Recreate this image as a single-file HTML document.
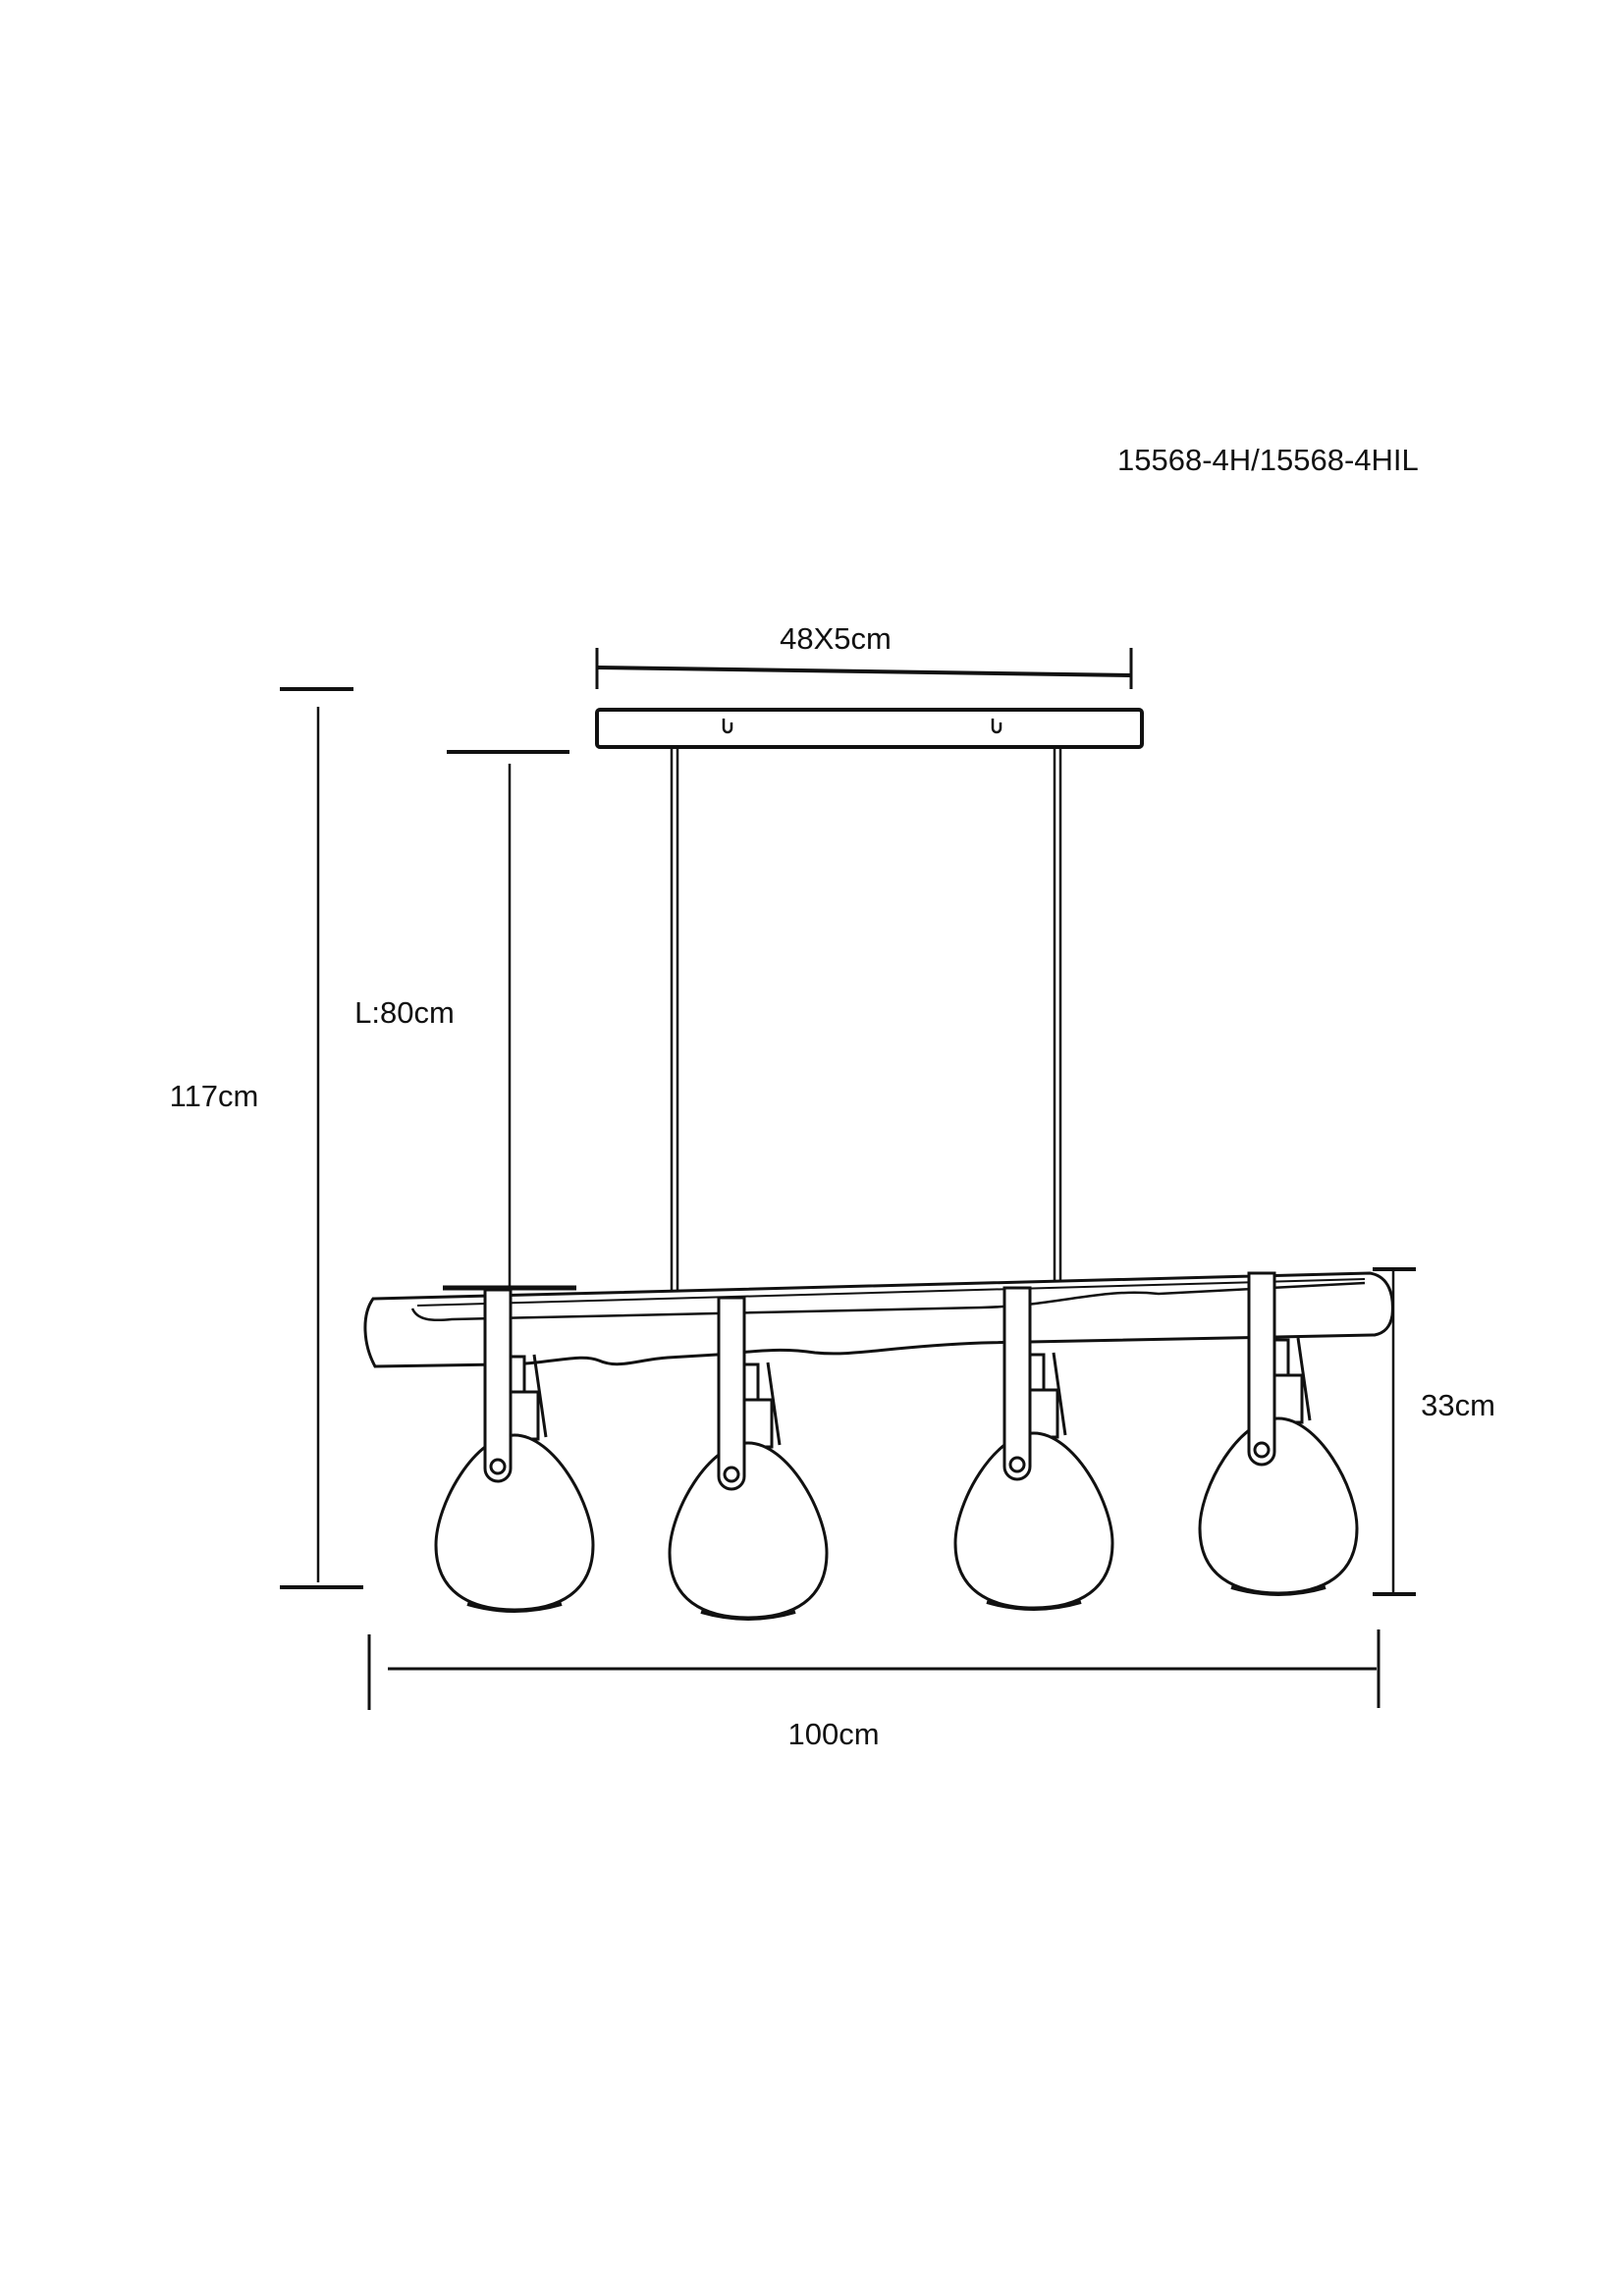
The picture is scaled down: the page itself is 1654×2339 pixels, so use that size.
<!DOCTYPE html>
<html><head><meta charset="utf-8"><style>
html,body{margin:0;padding:0;background:#fff}
svg{display:block}
text{font-family:"Liberation Sans",sans-serif;fill:#111}
</style></head><body>
<svg width="1654" height="2339" viewBox="0 0 1654 2339" xmlns="http://www.w3.org/2000/svg">
<defs>
<g id="lamp" fill="#fff" stroke="#111" stroke-width="3">
  <path d="M20,-82 L32,2" fill="none"/>
  <rect x="-6" y="-80" width="16" height="40"/>
  <rect x="-8" y="-44" width="32" height="48"/>
  <path d="M0,0 C40,0 80,70 80,112 C80,160 45,178 0,178 C-45,178 -80,160 -80,112 C-80,70 -40,0 0,0 Z"/>
  <path d="M-48,172 Q0,186 48,172" fill="none" stroke-width="4"/>
  <path d="M-30,-148 L-4,-148 L-4,34 A13,13 0 0 1 -30,34 Z"/>
  <circle cx="-17" cy="32" r="7"/>
</g>
</defs>

<text x="1138" y="479" font-size="31">15568-4H/15568-4HIL</text>

<text x="851" y="661" font-size="31" text-anchor="middle">48X5cm</text>
<line x1="608" y1="680" x2="1152" y2="688" stroke="#111" stroke-width="4"/>
<line x1="608" y1="660" x2="608" y2="702" stroke="#111" stroke-width="3"/>
<line x1="1152" y1="660" x2="1152" y2="702" stroke="#111" stroke-width="3"/>

<rect x="608" y="723" width="555" height="38" rx="3" fill="#fff" stroke="#111" stroke-width="4"/>
<path d="M737,732 v10 a4,4 0 0 0 8,0 v-6" fill="none" stroke="#111" stroke-width="2.5"/>
<path d="M1011,732 v10 a4,4 0 0 0 8,0 v-6" fill="none" stroke="#111" stroke-width="2.5"/>

<line x1="684" y1="761" x2="684" y2="1318" stroke="#111" stroke-width="2.5"/>
<line x1="690" y1="761" x2="690" y2="1318" stroke="#111" stroke-width="2.5"/>
<line x1="1074" y1="761" x2="1074" y2="1310" stroke="#111" stroke-width="2.5"/>
<line x1="1080" y1="761" x2="1080" y2="1310" stroke="#111" stroke-width="2.5"/>
<rect x="680" y="1316" width="15" height="18" fill="#fff" stroke="#111" stroke-width="3"/>
<rect x="1068" y="1306" width="15" height="18" fill="#fff" stroke="#111" stroke-width="3"/>

<line x1="285" y1="702" x2="360" y2="702" stroke="#111" stroke-width="4"/>
<line x1="324" y1="720" x2="324" y2="1612" stroke="#111" stroke-width="2.5"/>
<line x1="285" y1="1617" x2="370" y2="1617" stroke="#111" stroke-width="4"/>
<text x="218" y="1127" font-size="31" text-anchor="middle">117cm</text>

<line x1="455" y1="766" x2="580" y2="766" stroke="#111" stroke-width="4"/>
<line x1="519" y1="778" x2="519" y2="1312" stroke="#111" stroke-width="2.5"/>
<text x="412" y="1042" font-size="31" text-anchor="middle">L:80cm</text>

<path d="M380,1323 L1395,1297 C1415,1300 1420,1320 1418,1340 C1416,1352 1410,1358 1400,1360 L1000,1368 C900,1372 870,1382 830,1378 C790,1372 760,1378 730,1380 L680,1383 C650,1385 630,1395 610,1386 C590,1378 560,1390 510,1390 L382,1392 C370,1370 368,1340 380,1323 Z" fill="#fff" stroke="#111" stroke-width="3"/>
<path d="M420,1333 C425,1345 440,1346 460,1344 L1000,1332 C1080,1330 1120,1312 1180,1318 L1390,1307" fill="none" stroke="#111" stroke-width="2.5"/>
<path d="M425,1330 L1390,1303" fill="none" stroke="#111" stroke-width="2"/>
<line x1="451" y1="1312" x2="587" y2="1312" stroke="#111" stroke-width="5"/>

<use href="#lamp" transform="translate(524,1462)"/>
<use href="#lamp" transform="translate(762,1470)"/>
<use href="#lamp" transform="translate(1053,1460)"/>
<use href="#lamp" transform="translate(1302,1445)"/>

<line x1="1398" y1="1293" x2="1442" y2="1293" stroke="#111" stroke-width="4"/>
<line x1="1419" y1="1293" x2="1419" y2="1624" stroke="#111" stroke-width="2.5"/>
<line x1="1398" y1="1624" x2="1442" y2="1624" stroke="#111" stroke-width="4"/>
<text x="1485" y="1442" font-size="31" text-anchor="middle">33cm</text>

<line x1="376" y1="1665" x2="376" y2="1742" stroke="#111" stroke-width="3"/>
<line x1="1404" y1="1660" x2="1404" y2="1740" stroke="#111" stroke-width="3"/>
<line x1="395" y1="1700" x2="1402" y2="1700" stroke="#111" stroke-width="3"/>
<text x="849" y="1777" font-size="31" text-anchor="middle">100cm</text>
</svg>
</body></html>
